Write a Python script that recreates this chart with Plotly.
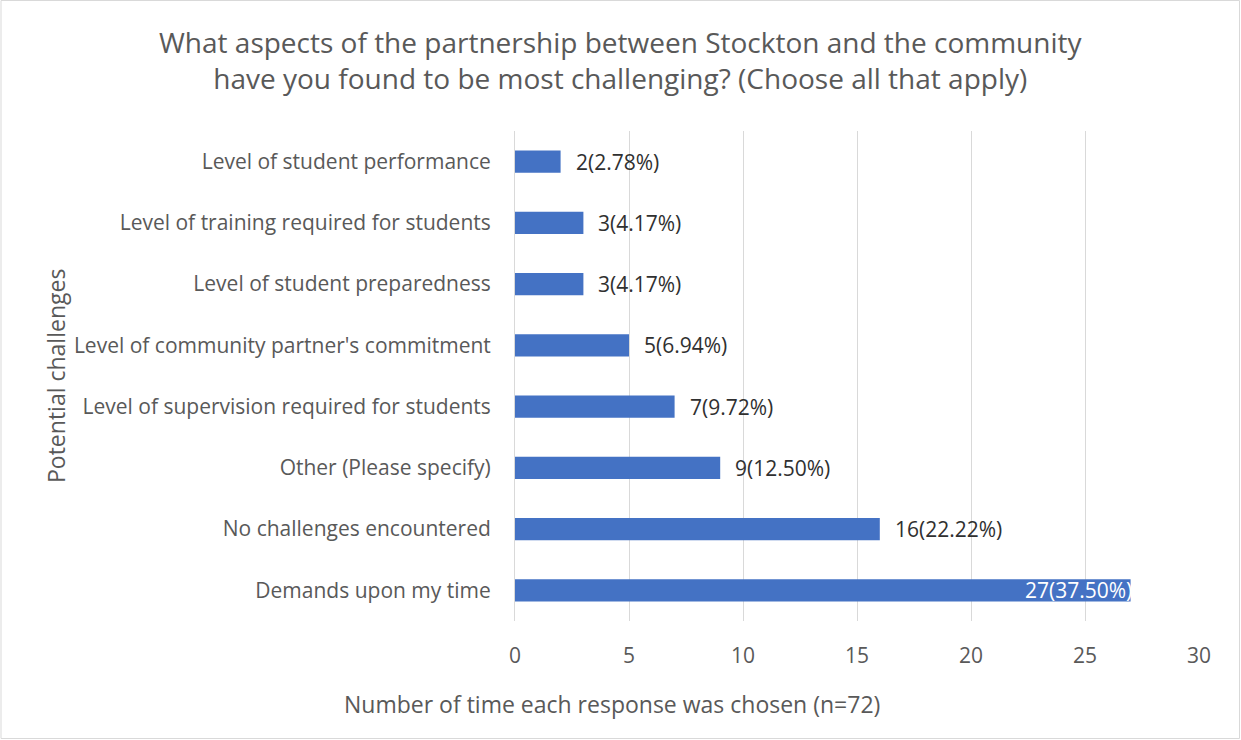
import plotly.graph_objects as go

categories = [
    "Demands upon my time",
    "No challenges encountered",
    "Other (Please specify)",
    "Level of supervision required for students",
    "Level of community partner's commitment",
    "Level of student preparedness",
    "Level of training required for students",
    "Level of student performance",
]
counts = [27, 16, 9, 7, 5, 3, 3, 2]
percents = [37.50, 22.22, 12.50, 9.72, 6.94, 4.17, 4.17, 2.78]
x_ticks = [0, 5, 10, 15, 20, 25, 30]

W, H = 1241, 740
ML, MR, MT, MB = 515, 42, 131, 119
FONT = "'Open Sans', 'Noto Sans', sans-serif"

fig = go.Figure()
fig.add_trace(go.Bar(
    x=counts, y=categories, orientation="h",
    marker=dict(color="#4472C4", line=dict(width=0)),
    hoverinfo="skip",
))

anns = []
for c, p, cat in zip(counts, percents, categories):
    label = f"{c}({p:.2f}%)"
    if c == max(counts):
        anns.append(dict(x=c, y=cat, xref="x", yref="y", text=label, showarrow=False,
                         xanchor="right", xshift=3, font=dict(family=FONT, size=21, color="white")))
    else:
        anns.append(dict(x=c, y=cat, xref="x", yref="y", text=label, showarrow=False,
                         xanchor="left", xshift=13, font=dict(family=FONT, size=21, color="#303030")))

pw = W - ML - MR
ph = H - MT - MB
anns.append(dict(text="Number of time each response was chosen (n=72)", xref="paper", yref="paper",
                 x=(612 - ML) / pw, y=-(704 - (H - MB)) / ph, showarrow=False,
                 xanchor="center", yanchor="middle",
                 font=dict(family=FONT, size=23, color="#595959")))
anns.append(dict(text="Potential challenges", xref="paper", yref="paper",
                 x=(56 - ML) / pw, y=0.5, showarrow=False, textangle=-90,
                 xanchor="center", yanchor="middle",
                 font=dict(family=FONT, size=23, color="#595959")))
anns.append(dict(text="What aspects of the partnership between Stockton and the community<br>have you found to be most challenging? (Choose all that apply)",
                 xref="paper", yref="paper", x=(620 - ML) / pw, y=1 + (MT - 60) / ph,
                 showarrow=False, xanchor="center", yanchor="middle",
                 font=dict(family=FONT, size=28, color="#595959")))

fig.update_layout(
    width=W, height=H,
    margin=dict(l=ML, r=MR, t=MT, b=MB, pad=0),
    paper_bgcolor="white", plot_bgcolor="white",
    showlegend=False,
    bargap=0.64,
    annotations=anns,
    font=dict(family=FONT, color="#595959"),
    shapes=[dict(type="rect", xref="paper", yref="paper",
                 x0=-(ML - 1) / pw, x1=1 + (MR - 1.5) / pw,
                 y0=-(MB - 1.5) / ph, y1=1 + (MT - 0.5) / ph,
                 line=dict(color="#D9D9D9", width=1), layer="below")],
)
fig.update_xaxes(range=[0, 30], tickvals=x_ticks, showgrid=True, gridcolor="#D9D9D9", gridwidth=1,
                 zeroline=False, showline=False, ticks="", ticklabelstandoff=20,
                 tickfont=dict(family=FONT, size=21, color="#595959"), fixedrange=True)
fig.update_yaxes(categoryorder="array", categoryarray=categories, showgrid=False, zeroline=False,
                 showline=True, linecolor="#D9D9D9", linewidth=1, ticks="", ticklabelstandoff=19,
                 tickfont=dict(family=FONT, size=21, color="#595959"), fixedrange=True)

fig.write_html("out.html", config={"displayModeBar": False},
               post_script="document.body.style.margin='0';document.body.style.overflow='hidden';")
